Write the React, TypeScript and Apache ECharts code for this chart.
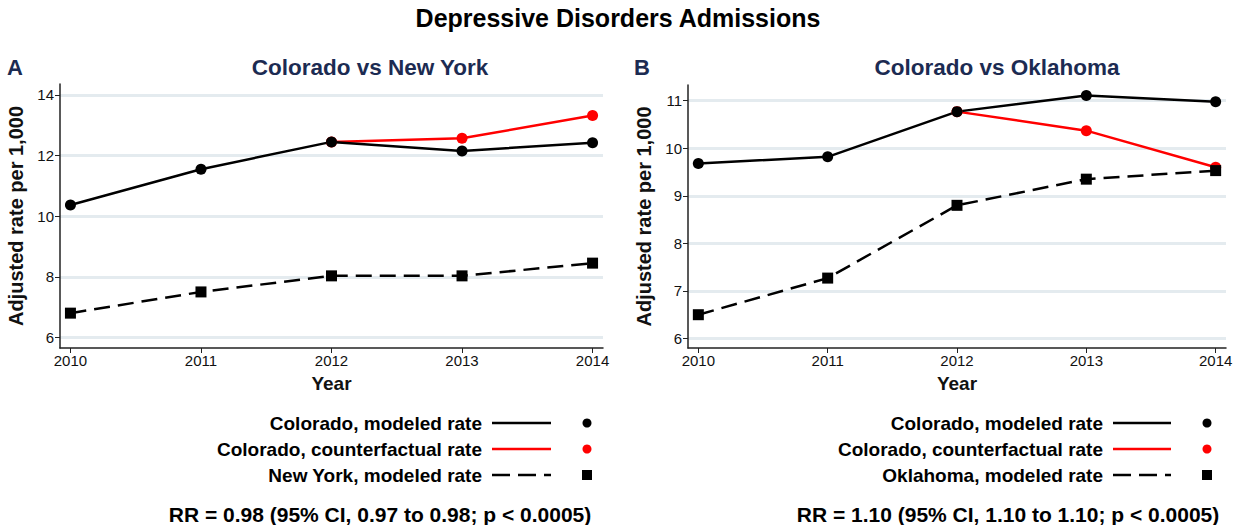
import React, { useEffect, useRef } from "react";
import * as echarts from "echarts";

const years = [2010, 2011, 2012, 2013, 2014];
const cfYears = [2012, 2013, 2014];

const coloradoA = [10.37, 11.55, 12.45, 12.15, 12.42];
const counterfactualA = [12.45, 12.57, 13.32];
const newYorkA = [6.8, 7.5, 8.03, 8.03, 8.45];

const coloradoB = [9.68, 9.82, 10.77, 11.11, 10.98];
const counterfactualB = [10.77, 10.37, 9.6];
const oklahomaB = [6.5, 7.27, 8.8, 9.35, 9.53];

const yTicksA = [6, 8, 10, 12, 14];
const yTicksB = [6, 7, 8, 9, 10, 11];

const legendA = ["Colorado, modeled rate", "Colorado, counterfactual rate", "New York, modeled rate"];
const legendB = ["Colorado, modeled rate", "Colorado, counterfactual rate", "Oklahoma, modeled rate"];
const rrA = "RR = 0.98 (95% CI, 0.97 to 0.98; p < 0.0005)";
const rrB = "RR = 1.10 (95% CI, 1.10 to 1.10; p < 0.0005)";

const FONT = "'Liberation Sans', Arial, Helvetica, sans-serif";
const NAVY = "#1c2b52";
const GRID = "#e4ebef";

const pair = (xs: number[], ys: number[]) => xs.map((x, i) => [x, ys[i]]);

function xAxis(gridIndex: number) {
  return {
    type: "value",
    gridIndex,
    min: 2009.92,
    max: 2014.08,
    axisLine: { show: true, lineStyle: { color: "#222", width: 1.5 } },
    axisTick: { show: true, customValues: years, length: 5, lineStyle: { color: "#222" } },
    axisLabel: { customValues: years, formatter: (v: number) => String(Math.round(v)), color: "#111", fontSize: 15, fontFamily: FONT, margin: 5 },
    splitLine: { show: false },
    name: "Year",
    nameLocation: "middle",
    nameGap: 26,
    nameTextStyle: { fontSize: 19, fontWeight: "bold", color: "#111", fontFamily: FONT },
  };
}

function yAxis(gridIndex: number, min: number, max: number, ticks: number[]) {
  return {
    type: "value",
    gridIndex,
    min,
    max,
    axisLine: { show: true, lineStyle: { color: "#222", width: 1.5 } },
    axisTick: { show: true, customValues: ticks, length: 5, lineStyle: { color: "#222" } },
    axisLabel: { customValues: ticks, color: "#111", fontSize: 15, fontFamily: FONT, margin: 6 },
    splitLine: { show: true, lineStyle: { color: GRID, width: 3 } },
    name: "Adjusted rate per 1,000",
    nameLocation: "middle",
    nameGap: 34,
    nameTextStyle: { fontSize: 20, fontWeight: "bold", color: "#111", fontFamily: FONT },
  };
}

function legendGraphics(labels: string[], textRight: number, lineX1: number, lineX2: number, markX: number, rr: string, rrCenter: number) {
  const rows = [423, 449, 475];
  const els: any[] = [];
  labels.forEach((lab, i) => {
    const y = rows[i];
    els.push({
      type: "text",
      x: textRight,
      y,
      style: { text: lab, fontSize: 19, fontWeight: "bold", fontFamily: FONT, fill: "#000", align: "right", verticalAlign: "middle" },
    });
    const color = i === 1 ? "#ff0000" : "#000";
    els.push({
      type: "line",
      shape: { x1: lineX1, y1: y, x2: lineX2, y2: y },
      style: { stroke: color, lineWidth: 2.5, lineDash: i === 2 ? [18, 8] : null },
    });
    if (i === 2) {
      els.push({ type: "rect", shape: { x: markX - 5, y: y - 5, width: 10, height: 10 }, style: { fill: "#000" } });
    } else {
      els.push({ type: "circle", shape: { cx: markX, cy: y, r: 4.5 }, style: { fill: color } });
    }
  });
  els.push({
    type: "text",
    x: rrCenter,
    y: 514,
    style: { text: rr, fontSize: 21, fontWeight: "bold", fontFamily: FONT, fill: "#000", align: "center", verticalAlign: "middle" },
  });
  return els;
}

function lineSeries(xi: number, data: number[][], color: string, symbol: string, dashed: boolean) {
  return {
    type: "line",
    xAxisIndex: xi,
    yAxisIndex: xi,
    data,
    symbol,
    symbolSize: symbol === "rect" ? 11 : 11,
    showSymbol: true,
    itemStyle: { color },
    lineStyle: { color, width: 2.5, type: dashed ? [16, 8] : "solid" },
    emphasis: { disabled: true },
  };
}

export default function App() {
  const ref = useRef<HTMLDivElement>(null);
  useEffect(() => {
    if (!ref.current) return;
    const chart = echarts.init(ref.current, null, { renderer: "svg" });
    chart.setOption({
      animation: false,
      backgroundColor: "#fff",
      grid: [
        { left: 60, top: 84, width: 543, height: 264 },
        { left: 688, top: 85, width: 538, height: 263 },
      ],
      xAxis: [xAxis(0), xAxis(1)],
      yAxis: [yAxis(0, 5.65, 14.36, yTicksA), yAxis(1, 5.8, 11.33, yTicksB)],
      series: [
        lineSeries(0, pair(cfYears, counterfactualA), "#ff0000", "circle", false),
        lineSeries(0, pair(years, coloradoA), "#000", "circle", false),
        lineSeries(0, pair(years, newYorkA), "#000", "rect", true),
        lineSeries(1, pair(cfYears, counterfactualB), "#ff0000", "circle", false),
        lineSeries(1, pair(years, coloradoB), "#000", "circle", false),
        lineSeries(1, pair(years, oklahomaB), "#000", "rect", true),
      ],
      graphic: [
        { type: "text", x: 618, y: 18, style: { text: "Depressive Disorders Admissions", fontSize: 25, fontWeight: "bold", fontFamily: FONT, fill: "#000", align: "center", verticalAlign: "middle" } },
        { type: "text", x: 7, y: 67, style: { text: "A", fontSize: 22, fontWeight: "bold", fontFamily: FONT, fill: NAVY, verticalAlign: "middle" } },
        { type: "text", x: 370, y: 67, style: { text: "Colorado vs New York", fontSize: 22.5, fontWeight: "bold", fontFamily: FONT, fill: NAVY, align: "center", verticalAlign: "middle" } },
        { type: "text", x: 634, y: 67, style: { text: "B", fontSize: 22, fontWeight: "bold", fontFamily: FONT, fill: NAVY, verticalAlign: "middle" } },
        { type: "text", x: 997, y: 67, style: { text: "Colorado vs Oklahoma", fontSize: 22.5, fontWeight: "bold", fontFamily: FONT, fill: NAVY, align: "center", verticalAlign: "middle" } },
        ...legendGraphics(legendA, 482, 492, 551, 587, rrA, 380),
        ...legendGraphics(legendB, 1103, 1113, 1171, 1207, rrB, 1008),
      ],
    });
    return () => chart.dispose();
  }, []);
  return <div ref={ref} style={{ position: "fixed", left: 0, top: 0, width: 1237, height: 525 }} />;
}
